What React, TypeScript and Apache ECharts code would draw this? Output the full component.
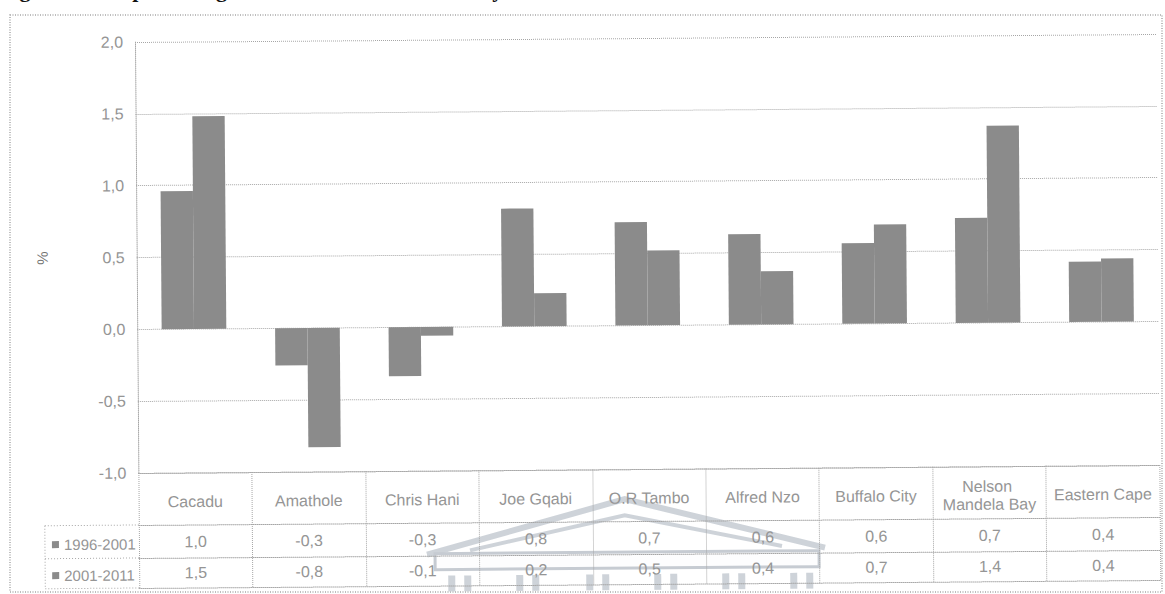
import React, { useEffect, useRef } from "react";
import * as echarts from "echarts";

// Population growth (% per year) by district, two census intervals
const categories = [
  "Cacadu",
  "Amathole",
  "Chris Hani",
  "Joe Gqabi",
  "O.R Tambo",
  "Alfred Nzo",
  "Buffalo City",
  "Nelson Mandela Bay",
  "Eastern Cape",
];
const periods = ["1996-2001", "2001-2011"];
const growth1996to2001 = [0.96, -0.26, -0.34, 0.82, 0.72, 0.63, 0.56, 0.73, 0.42];
const growth2001to2011 = [1.48, -0.83, -0.06, 0.23, 0.52, 0.37, 0.69, 1.37, 0.44];
const yMin = -1;
const yMax = 2;
const yStep = 0.5;

const TITLE = "Figure 4.4: Population growth rates in the districts by census interval";

const W = 1165;
const H = 594;
const FONT = '"Liberation Sans", Arial, sans-serif';
const FS = 16;
const TEXT = "#959595";
const RULE = "#a6a6a6";
const BAR = "#8b8b8b";
const MARK = "#c6cbd2";

const comma = (v: number) => v.toFixed(1).replace(".", ",");

export default function App() {
  const pageRef = useRef<HTMLDivElement>(null);
  const plotRef = useRef<HTMLDivElement>(null);

  useEffect(() => {
    if (!pageRef.current || !plotRef.current) return;

    // page layer: caption and the dotted frame
    const page = echarts.init(pageRef.current, undefined, { renderer: "svg" });
    page.setOption({
      animation: false,
      backgroundColor: "#ffffff",
      graphic: [
        {
          type: "text",
          left: 0,
          top: -22,
          style: {
            text: TITLE,
            fontFamily: '"Liberation Serif", "Times New Roman", serif',
            fontWeight: "bold",
            fontSize: 22,
            fill: "#111111",
          },
        },
        {
          type: "rect",
          shape: { x: 10, y: 15, width: 1152, height: 577 },
          style: { fill: "none", stroke: "#a8a8a8", lineWidth: 1.5, lineDash: [1, 1.5] },
        },
      ],
    });

    // chart layer: plot, data table and watermark
    const chart = echarts.init(plotRef.current, undefined, { renderer: "svg" });

    const dotted = { color: RULE, type: "dotted" as const, width: 1 };
    const gridLeft = 137;
    const gridRight = 1158;
    const plotBottom = 473;

    // table rows drawn as extra category axes under the plot
    const tableAxis = (offset: number, values: number[] | null, margin: number) => ({
      type: "category" as const,
      data: categories,
      position: "bottom" as const,
      offset,
      axisLine: { show: true, onZero: false, lineStyle: dotted },
      axisTick: { show: false },
      splitLine: { show: false },
      axisLabel: values
        ? {
            show: true,
            interval: 0,
            margin,
            verticalAlign: "middle" as const,
            fontFamily: FONT,
            fontSize: FS,
            color: TEXT,
            formatter: (_: string, i: number) => comma(values[i]),
          }
        : { show: false },
    });

    // column positions of the watermark building
    const columnXs = [446, 462, 514, 530, 584, 600, 652, 668, 720, 736, 788, 804];
    const headerLine = (x1: number, y1: number, x2: number, y2: number) => ({
      type: "line",
      shape: { x1, y1, x2, y2 },
      style: { stroke: RULE, lineDash: [1, 2] },
    });

    chart.setOption({
      animation: false,
      backgroundColor: "transparent",
      grid: {
        left: gridLeft,
        right: W - gridRight,
        top: 42,
        bottom: H - plotBottom,
        containLabel: false,
      },
      legend: {
        data: periods,
        orient: "vertical",
        left: 45,
        top: 531,
        itemGap: 15,
        itemWidth: 7,
        itemHeight: 7,
        icon: "rect",
        textStyle: { fontFamily: FONT, fontSize: 15, color: TEXT, lineHeight: 16 },
      },
      xAxis: [
        {
          type: "category",
          data: categories,
          position: "bottom",
          axisLine: { show: true, onZero: false, lineStyle: dotted },
          axisTick: { show: true, length: 115, lineStyle: dotted },
          splitLine: { show: false },
          axisLabel: {
            show: true,
            interval: 0,
            margin: 29,
            verticalAlign: "middle",
            width: 104,
            overflow: "break",
            lineHeight: 18,
            fontFamily: FONT,
            fontSize: FS,
            color: TEXT,
          },
        },
        tableAxis(52, growth1996to2001, 17),
        tableAxis(85, growth2001to2011, 15),
        tableAxis(115, null, 0),
      ],
      yAxis: {
        type: "value",
        min: yMin,
        max: yMax,
        interval: yStep,
        name: "%",
        nameLocation: "middle",
        nameRotate: 90,
        nameGap: 87,
        nameTextStyle: { fontFamily: FONT, fontSize: 15, color: "#707070" },
        axisLine: { show: true, lineStyle: dotted },
        axisTick: { show: false },
        splitLine: { show: true, lineStyle: dotted },
        axisLabel: {
          margin: 12,
          fontFamily: FONT,
          fontSize: FS,
          color: TEXT,
          formatter: (v: number) => comma(v),
        },
      },
      series: [
        {
          name: periods[0],
          type: "bar",
          data: growth1996to2001,
          xAxisIndex: 0,
          barGap: "0%",
          barCategoryGap: "43%",
          itemStyle: { color: BAR },
        },
        {
          name: periods[1],
          type: "bar",
          data: growth2001to2011,
          xAxisIndex: 0,
          itemStyle: { color: BAR },
        },
      ],
      graphic: [
        // row-header cells of the data table
        headerLine(43, 525, gridLeft, 525),
        headerLine(43, 558, gridLeft, 558),
        headerLine(43, 588, gridLeft, 588),
        headerLine(43, 525, 43, 588),
        // faint building watermark over the table
        {
          type: "group",
          z: 100,
          children: [
            {
              type: "polyline",
              shape: { points: [[425, 557], [623, 503], [823, 553]] },
              style: { stroke: MARK, lineWidth: 6, fill: "none", opacity: 0.85 },
            },
            {
              type: "polyline",
              shape: { points: [[468, 553], [623, 519], [780, 551]] },
              style: { stroke: MARK, lineWidth: 4, fill: "none", opacity: 0.85 },
            },
            {
              type: "rect",
              shape: { x: 433, y: 556, width: 384, height: 16 },
              style: { fill: "rgba(252,252,253,0.75)", stroke: MARK, lineWidth: 3 },
            },
            ...columnXs.map((x) => ({
              type: "rect",
              shape: { x, y: 578, width: 7, height: 20 },
              style: { fill: MARK, opacity: 0.85 },
            })),
          ],
        },
      ],
    });

    return () => {
      chart.dispose();
      page.dispose();
    };
  }, []);

  return (
    <div
      style={{
        position: "absolute",
        left: 0,
        top: 0,
        width: W,
        height: H,
        overflow: "hidden",
        background: "#ffffff",
      }}
    >
      <div ref={pageRef} style={{ position: "absolute", left: 0, top: 0, width: W, height: H }} />
      {/* the printed chart sits slightly askew on the page */}
      <div
        ref={plotRef}
        style={{
          position: "absolute",
          left: 0,
          top: 0,
          width: W,
          height: H,
          transformOrigin: "582.5px 297px",
          transform: "translateY(-3.5px) rotate(-0.45deg)",
        }}
      />
    </div>
  );
}
